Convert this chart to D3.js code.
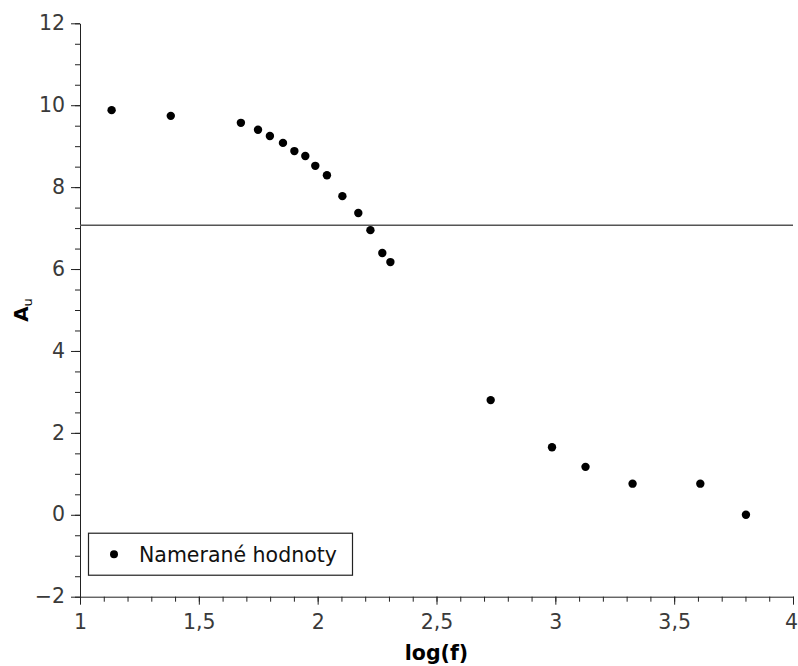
<!DOCTYPE html>
<html>
<head>
<meta charset="utf-8">
<script src="https://d3js.org/d3.v7.min.js"></script>
<style>
  body { margin: 0; background: #fff; }
  text { font-family: "DejaVu Sans", Verdana, sans-serif; }
</style>
</head>
<body>
<div id="chart"></div>
<script>
// measured values (log of frequency vs. gain)
var logF = [1.133, 1.382, 1.677, 1.749, 1.799, 1.854, 1.902, 1.948, 1.990, 2.039,
            2.104, 2.171, 2.222, 2.272, 2.306, 2.728, 2.986, 3.127, 3.325, 3.610, 3.802];
var gain = [9.88, 9.74, 9.57, 9.40, 9.25, 9.08, 8.88, 8.76, 8.52, 8.29,
            7.78, 7.37, 6.95, 6.39, 6.17, 2.80, 1.65, 1.17, 0.76, 0.76, 0.00];
var cutoff = 7.07;          // horizontal reference line
var xTicks = [1, 1.5, 2, 2.5, 3, 3.5, 4];
var yTicks = [-2, 0, 2, 4, 6, 8, 10, 12];
var legendLabel = "Namerané hodnoty";

var data = logF.map(function(d, i) { return {x: d, y: gain[i]}; });

// dimensions and margins of graph
var margin = {top: 23.3, right: 5, bottom: 69.3, left: 80},
    width = 798 - margin.left - margin.right,
    height = 666 - margin.top - margin.bottom;

var svg = d3.select("#chart")
  .append("svg")
    .attr("width", 798)
    .attr("height", 666)
  .append("g")
    .attr("transform", "translate(" + margin.left + "," + margin.top + ")");

var x = d3.scaleLinear().domain([1, 4]).range([0, width]);
var y = d3.scaleLinear().domain([-2, 12]).range([height, 0]);

var fmt = function(d) { return String(d).replace(".", ",").replace("-", "\u2212"); };

// minor ticks first, then the labelled axes on top
svg.append("g")
    .attr("transform", "translate(0," + height + ")")
    .call(d3.axisBottom(x).tickValues(d3.range(1, 4.001, 0.1)).tickSize(5).tickFormat(""))
    .call(function(g) { g.select(".domain").remove(); });
svg.append("g")
    .call(d3.axisLeft(y).tickValues(d3.range(-2, 12.001, 0.5)).tickSize(5).tickFormat(""))
    .call(function(g) { g.select(".domain").remove(); });

var xAxis = svg.append("g")
    .attr("transform", "translate(0," + height + ")")
    .call(d3.axisBottom(x).tickValues(xTicks).tickSize(8).tickPadding(10).tickSizeOuter(0).tickFormat(fmt));
var yAxis = svg.append("g")
    .call(d3.axisLeft(y).tickValues(yTicks).tickSize(9).tickPadding(6).tickSizeOuter(0).tickFormat(fmt));

[xAxis, yAxis].forEach(function(a) {
  a.selectAll("text")
    .attr("font-family", "DejaVu Sans")
    .attr("font-size", "20.5px")
    .attr("fill", "#3a3a3a");
});
svg.selectAll(".tick line, .domain").attr("stroke", "#222");
yAxis.selectAll("text").attr("dy", "0.3em");
// keep the last x label inside the page
xAxis.selectAll(".tick text").filter(function(d) { return d === 4; }).attr("dx", "-2");

// axis titles
svg.append("text")
    .attr("x", x(2.5))
    .attr("y", height + 63)
    .attr("text-anchor", "middle")
    .attr("font-weight", "bold")
    .attr("font-size", "20.5px")
    .attr("fill", "#000")
    .text("log(f)");

var yLabel = svg.append("text")
    .attr("transform", "translate(" + (-52) + "," + y(5) + ") rotate(-90)")
    .attr("text-anchor", "middle")
    .attr("fill", "#000");
yLabel.append("tspan")
    .attr("font-weight", "bold")
    .attr("font-size", "20px")
    .text("A");
yLabel.append("tspan")
    .attr("font-size", "13px")
    .attr("dy", "4")
    .text("u");

// reference line
svg.append("line")
    .attr("x1", 0)
    .attr("x2", width)
    .attr("y1", y(cutoff))
    .attr("y2", y(cutoff))
    .attr("stroke", "#555")
    .attr("stroke-width", 1.4);

// data points
svg.selectAll(".pt")
  .data(data)
  .enter().append("circle")
    .attr("class", "pt")
    .attr("cx", function(d) { return x(d.x); })
    .attr("cy", function(d) { return y(d.y); })
    .attr("r", 4.2)
    .attr("fill", "#000");

// legend
var legend = svg.append("g")
    .attr("transform", "translate(" + 8.5 + "," + (y(-0.45)) + ")");
legend.append("rect")
    .attr("width", 264)
    .attr("height", 42)
    .attr("fill", "#fff")
    .attr("stroke", "#222")
    .attr("stroke-width", 1.2);
legend.append("circle")
    .attr("cx", 25.5)
    .attr("cy", 21)
    .attr("r", 4)
    .attr("fill", "#000");
legend.append("text")
    .attr("x", 50.5)
    .attr("y", 29)
    .attr("font-size", "20.5px")
    .attr("fill", "#111")
    .text(legendLabel);
</script>
</body>
</html>
